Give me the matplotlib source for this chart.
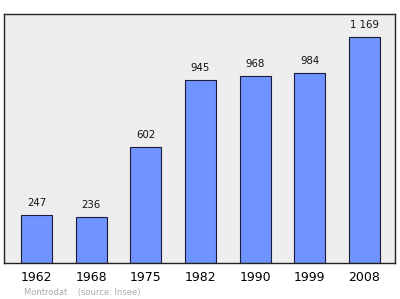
import matplotlib
matplotlib.use("Agg")
import matplotlib.pyplot as plt

years = ["1962", "1968", "1975", "1982", "1990", "1999", "2008"]
population = [247, 236, 602, 945, 968, 984, 1169]
value_labels = ["247", "236", "602", "945", "968", "984", "1 169"]

fig = plt.figure(figsize=(4.0, 2.99), dpi=100)
ax = fig.add_axes([0.01, 0.1204, 0.9775, 0.8326])
ax.set_facecolor("#eeeeee")

x = range(len(years))
ax.bar(x, population, width=0.57, color="#7094ff", edgecolor="#1a1a3a", linewidth=0.8)

for i, (v, lab) in enumerate(zip(population, value_labels)):
    ax.annotate(lab, (i, v), xytext=(0, 5), textcoords="offset points",
                ha="center", va="bottom", fontsize=7.3, color="#111111")

ax.set_xlim(-0.594, 6.557)
ax.set_ylim(0, 1288)
ax.set_xticks(list(x))
ax.set_xticklabels(years, fontsize=9)
ax.tick_params(axis="x", length=0, pad=5.5)
ax.set_yticks([])
for s in ax.spines.values():
    s.set_color("#222222")
    s.set_linewidth(1.0)

fig.text(0.06, 0.012, "Montrodat    (source: Insee)", fontsize=6, color="#aaaaaa")

fig.savefig("out.png", dpi=100)
